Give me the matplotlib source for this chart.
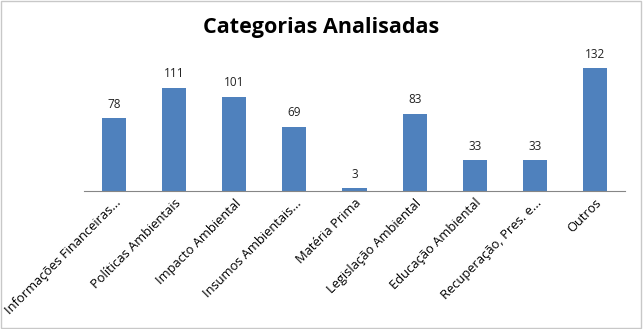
import matplotlib
matplotlib.use("Agg")
import matplotlib.pyplot as plt
from matplotlib.patches import Rectangle

categories = ["Informações Financeiras...", "Políticas Ambientais", "Impacto Ambiental",
              "Insumos Ambientais...", "Matéria Prima", "Legislação Ambiental",
              "Educação Ambiental", "Recuperação, Pres. e...", "Outros"]
values = [78, 111, 101, 69, 3, 83, 33, 33, 132]

plt.rcParams['font.family'] = ['Open Sans', 'DejaVu Sans']
fig = plt.figure(figsize=(6.43, 3.29), dpi=100)
ax = fig.add_axes([84/643, 1 - 191/329, (625-84)/643, (191-55)/329])
x = range(len(categories))
ax.bar(x, values, width=0.4, color='#4F81BD')
for xi, v in zip(x, values):
    ax.text(xi, v + 8, str(v), ha='center', va='bottom', fontsize=8.5, color='#222222')
ax.set_xlim(-0.5, len(categories) - 0.5)
ax.set_ylim(0, 146)
ax.set_yticks([])
for s in ['top', 'right', 'left']:
    ax.spines[s].set_visible(False)
ax.spines['bottom'].set_color('#868686')
ax.set_xticks(list(x))
ax.set_xticklabels(categories, rotation=45, ha='right', rotation_mode='anchor', fontsize=9.3)
ax.tick_params(axis='x', length=0, pad=4)
fig.text(0.5, 1 - 27/329, "Categorias Analisadas", ha='center', va='center',
         fontsize=15.5, fontweight='bold')
fig.patches.append(Rectangle((0.002, 0.003), 0.995, 0.994, transform=fig.transFigure,
                             fill=False, edgecolor='#c8c8c8', linewidth=1))
fig.savefig("out.png", dpi=100)
